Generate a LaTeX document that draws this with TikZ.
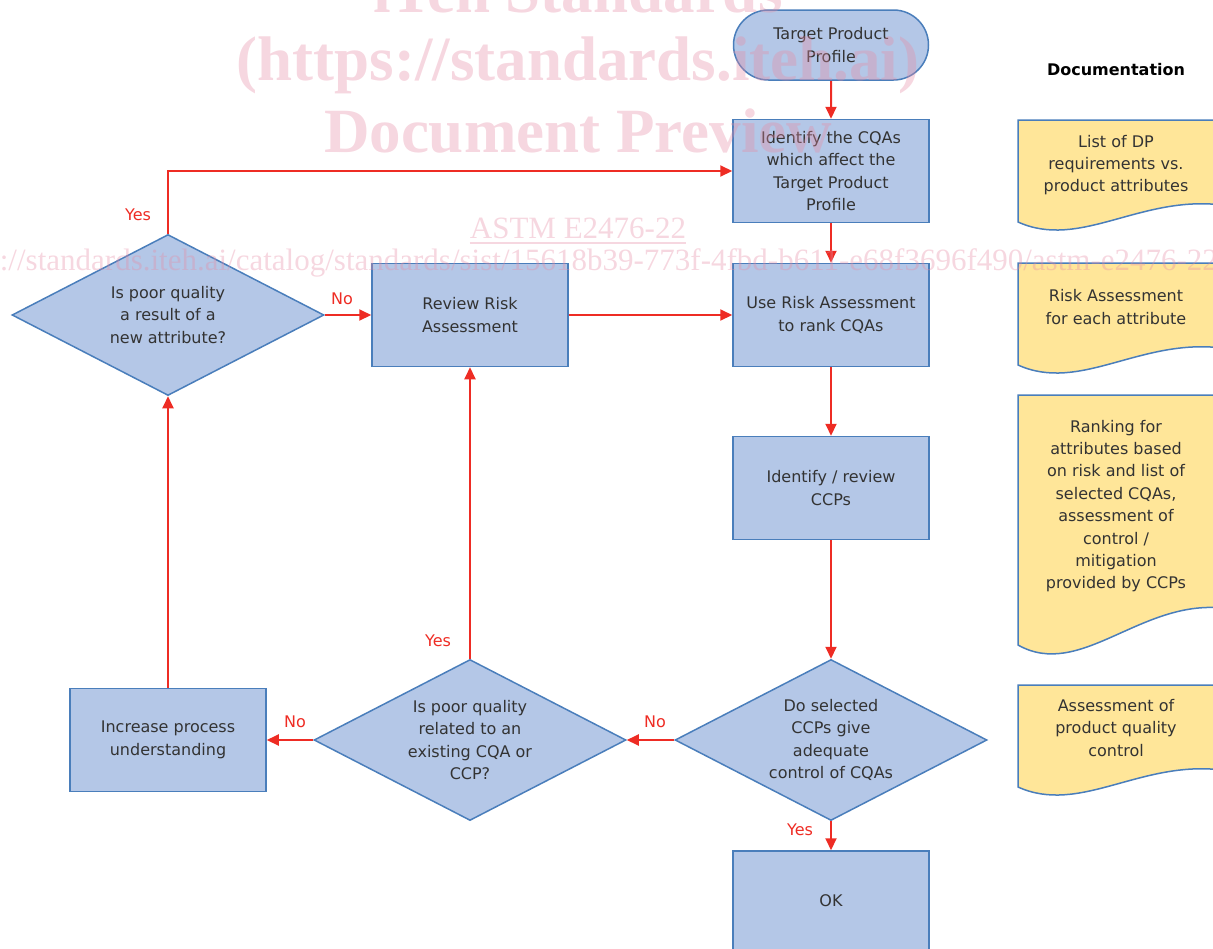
\documentclass[tikz,border=0pt]{standalone}
\usepackage{fontspec}
\setmainfont{DejaVu Sans}
\newfontfamily\wmfont{Liberation Serif}
\usetikzlibrary{shapes.geometric,shapes.misc,arrows.meta}
\definecolor{boxblue}{HTML}{B4C7E7}
\definecolor{edgeblue}{HTML}{4A7EBB}
\definecolor{docyellow}{HTML}{FFE699}
\definecolor{flowred}{HTML}{EE2C24}
\definecolor{txtgray}{HTML}{333333}
\definecolor{wmpink}{HTML}{E68CA5}
\begin{document}
\begin{tikzpicture}[x=1pt,y=-1pt,
  every node/.style={font=\fontsize{16}{22.4}\selectfont, text=txtgray},
  procbox/.style={draw=edgeblue, line width=1.5pt, fill=boxblue, minimum width=196pt, minimum height=103pt, align=center, inner sep=0pt},
  termbox/.style={rounded rectangle, draw=edgeblue, line width=1.5pt, fill=boxblue, minimum width=195pt, minimum height=70pt, align=center, inner sep=0pt},
  decbox/.style={diamond, aspect=1.94, draw=edgeblue, line width=1.5pt, fill=boxblue, minimum width=312pt, minimum height=161pt, align=center, inner sep=0pt},
  doctext/.style={align=center, inner sep=0pt},
  docshape/.style={draw=edgeblue, line width=1.5pt, fill=docyellow},
  flow/.style={draw=flowred, line width=2pt, -{Triangle[length=12pt,width=11pt]}},
  flowlabel/.style={text=flowred, inner sep=0pt},
  wm/.style={text=wmpink, text opacity=0.35, inner sep=0pt}
]
\useasboundingbox (0,0) rectangle (1213,948);

% process column
\node[termbox] (tpp) at (831,45) {Target Product\\Profile};
\node[procbox] (cqa) at (831,171) {Identify the CQAs\\which affect the\\Target Product\\Profile};
\node[procbox] (rank) at (831,315) {Use Risk Assessment\\to rank CQAs};
\node[procbox] (ccp) at (831,488) {Identify / review\\CCPs};
\node[decbox] (adeq) at (831,740) {Do selected\\CCPs give\\adequate\\control of CQAs};
\node[procbox, minimum height=100pt] (ok) at (831,901) {OK};

% left part
\node[decbox] (exist) at (470,740) {Is poor quality\\related to an\\existing CQA or\\CCP?};
\node[procbox] (incr) at (168,740) {Increase process\\understanding};
\node[decbox] (newattr) at (168,315) {Is poor quality\\a result of a\\new attribute?};
\node[procbox] (review) at (470,315) {Review Risk\\Assessment};

% documentation
\node[font=\fontsize{16}{20}\selectfont\bfseries, text=black] (doch) at (1116,70) {Documentation};
\path[docshape] (1018,120) -- (1222,120) -- (1222,205) .. controls (1140,195) and (1080,250) .. (1018,222) -- cycle;
\path[docshape] (1018,263) -- (1222,263) -- (1222,348) .. controls (1140,338) and (1080,393) .. (1018,365) -- cycle;
\path[docshape] (1018,395) -- (1222,395) -- (1222,608) .. controls (1140,600) and (1080,680) .. (1018,645) -- cycle;
\path[docshape] (1018,685) -- (1222,685) -- (1222,770) .. controls (1140,760) and (1080,815) .. (1018,787) -- cycle;
\node[doctext] (d1) at (1116,165) {List of DP\\requirements vs.\\product attributes};
\node[doctext] (d2) at (1116,307) {Risk Assessment\\for each attribute};
\node[doctext] (d3) at (1116,506) {Ranking for\\attributes based\\on risk and list of\\selected CQAs,\\assessment of\\control /\\mitigation\\provided by CCPs};
\node[doctext] (d4) at (1116,728) {Assessment of\\product quality\\control};

% connectors
\draw[flow] (tpp) -- (cqa);
\draw[flow] (cqa) -- (rank);
\draw[flow] (rank) -- (ccp);
\draw[flow] (ccp) -- (adeq);
\draw[flow] (adeq) -- (ok);
\draw[flow] (adeq) -- (exist);
\draw[flow] (exist) -- (incr);
\draw[flow] (exist) -- (review);
\draw[flow] (incr) -- (newattr);
\draw[flow] (newattr) -- (review);
\draw[flow] (newattr.north) |- (cqa.west);
\draw[flow] (review) -- (rank);

% labels
\node[flowlabel] (y1) at (138,215) {Yes};
\node[flowlabel] (n1) at (342,299) {No};
\node[flowlabel] (y2) at (438,641) {Yes};
\node[flowlabel] (n2) at (295,722) {No};
\node[flowlabel] (n3) at (655,722) {No};
\node[flowlabel] (y3) at (800,830) {Yes};

% watermark
\node[wm, font=\wmfont\fontsize{63}{63}\selectfont\bfseries, anchor=base] (wm0) at (578,12) {iTeh Standards};
\node[wm, font=\wmfont\fontsize{63}{63}\selectfont\bfseries, anchor=base] (wm1) at (578,80) {(https://standards.iteh.ai)};
\node[wm, font=\wmfont\fontsize{63}{63}\selectfont\bfseries, anchor=base] (wm2) at (578,152) {Document Preview};
\node[wm, font=\wmfont\fontsize{31}{31}\selectfont, anchor=base] (wm3) at (578,238) {ASTM E2476-22};
\draw[wmpink, opacity=0.35, line width=1.5pt] ([yshift=-5pt]wm3.base west) -- ([yshift=-5pt]wm3.base east);
\node[wm, font=\wmfont\fontsize{31}{31}\selectfont, anchor=base east] (wm4) at (1218,270) {https://standards.iteh.ai/catalog/standards/sist/15618b39-773f-4fbd-b611-e68f3696f490/astm-e2476-22};
\end{tikzpicture}
\end{document}
